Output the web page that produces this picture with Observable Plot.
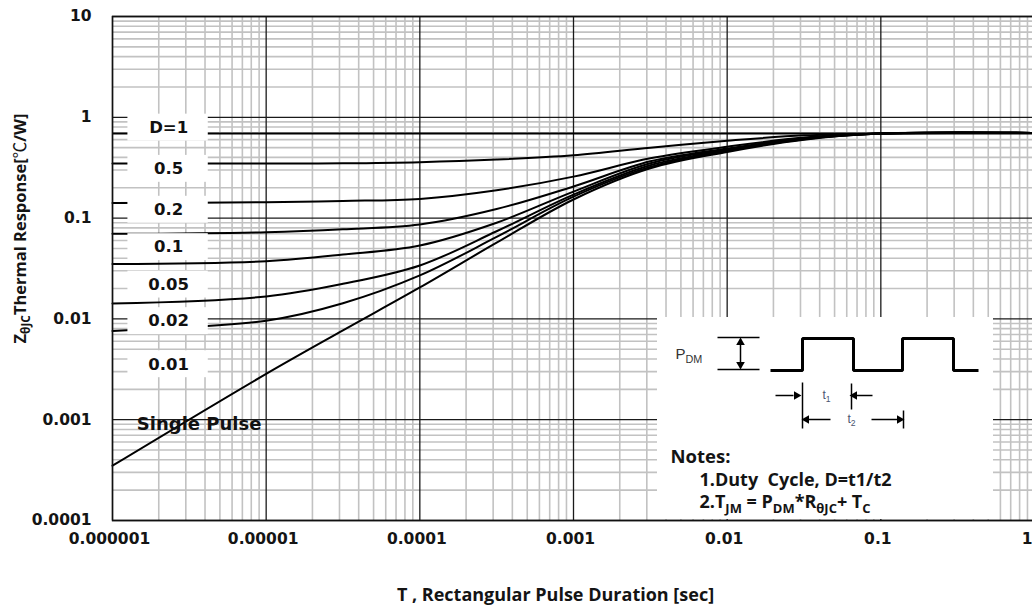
<!DOCTYPE html>
<html>
<head>
<meta charset="utf-8">
<script src="https://cdn.jsdelivr.net/npm/d3@7"></script>
<script src="https://cdn.jsdelivr.net/npm/@observablehq/plot@0.6"></script>
<style>
  html, body { margin: 0; padding: 0; background: #fff; overflow: hidden; }
  #wrap { position: relative; width: 1034px; height: 607px; }
  #inset { position: absolute; left: 657px; top: 317px; }
  svg text { white-space: pre; }
</style>
</head>
<body>
<div id="wrap"></div>
<script>
// ---------------- data ----------------
const times = [1e-6, 1e-5, 3.16e-5, 1e-4, 3.16e-4, 1e-3, 3.16e-3, 1e-2, 3.16e-2, 1e-1, 1];
const seriesNames = ["0.5", "0.2", "0.1", "0.05", "0.02", "0.01", "Single Pulse"];
const zD05   = [0.348, 0.348, 0.350, 0.359, 0.381, 0.420, 0.500, 0.585, 0.662, 0.690, 0.700];
const zD02   = [0.141, 0.144, 0.148, 0.155, 0.189, 0.258, 0.392, 0.510, 0.630, 0.690, 0.700];
const zD01   = [0.0698, 0.0725, 0.0775, 0.0864, 0.123, 0.206, 0.366, 0.490, 0.620, 0.690, 0.700];
const zD005  = [0.0350, 0.0374, 0.0435, 0.0535, 0.090, 0.183, 0.350, 0.480, 0.615, 0.690, 0.700];
const zD002  = [0.0142, 0.0167, 0.0223, 0.0339, 0.074, 0.171, 0.334, 0.469, 0.610, 0.690, 0.700];
const zD001  = [0.0076, 0.0096, 0.0143, 0.0270, 0.065, 0.163, 0.322, 0.463, 0.605, 0.690, 0.700];
const zSingle= [0.00035, 0.00285, 0.0077, 0.0205, 0.057, 0.153, 0.312, 0.453, 0.600, 0.690, 0.700];
const seriesValues = [zD05, zD02, zD01, zD005, zD002, zD001, zSingle];
const dutyOne = 0.69;

const curveLabels = ["D=1", "0.5", "0.2", "0.1", "0.05", "0.02", "0.01"];
const curveLabelZ = [0.79, 0.308, 0.121, 0.0515, 0.0219, 0.0095, 0.00355];
const curveLabelT = 2.32e-6;
const singleLabel = "Single Pulse";
const singleLabelT = 1.44e-6;
const singleLabelZ = 0.0009;

const xTicks = [1e-6, 1e-5, 1e-4, 1e-3, 1e-2, 1e-1, 1];
const xTickLabels = ["0.000001", "0.00001", "0.0001", "0.001", "0.01", "0.1", "1"];
const yTicks = [10, 1, 0.1, 0.01, 0.001, 0.0001];
const yTickLabels = ["10", "1", "0.1", "0.01", "0.001", "0.0001"];
const xTitle = "T , Rectangular Pulse Duration [sec]";
const yTitle = "Z_{θJC}Thermal Response[℃/W]";

// inset schematic (local units)
const pulseX = [113, 145, 145, 196, 196, 245, 245, 296, 296, 321];
const pulseY = [53, 53, 21, 21, 53, 53, 21, 21, 53, 53];
const notes = ["Notes:", "1.Duty  Cycle, D=t1/t2", "2.T_{JM} = P_{DM}*R_{θJC}+ T_{C}"];

// ---------------- build ----------------
const rows = seriesNames.flatMap((name, i) => times.map((t, j) => ({series: name, t, z: seriesValues[i][j]})));
const labelRows = curveLabels.map((text, i) => ({text, t: curveLabelT, z: curveLabelZ[i]}));
const minorX = d3.range(-6, 0).flatMap(e => d3.range(2, 10).map(k => k * Math.pow(10, e)));
const minorY = d3.range(-4, 1).flatMap(e => d3.range(2, 10).map(k => k * Math.pow(10, e)));

const boldTick = {fontFamily: "DejaVu Sans", fontWeight: "bold", fontSize: 15.5, fill: "#141414"};
const lastTick = xTicks.length - 1;

const chart = Plot.plot({
  width: 1034, height: 607,
  marginTop: 16, marginBottom: 87, marginLeft: 112, marginRight: 0,
  x: {type: "log", domain: [1e-6, 1]},
  y: {type: "log", domain: [1e-4, 10]},
  style: {background: "white", overflow: "visible"},
  marks: [
    Plot.ruleX(minorX, {stroke: "#c2c2c2", strokeWidth: 1.6}),
    Plot.ruleY(minorY, {stroke: "#c2c2c2", strokeWidth: 1.6}),
    Plot.ruleX(xTicks, {stroke: "#1a1a1a", strokeWidth: 1.3}),
    Plot.ruleY(yTicks, {stroke: "#1a1a1a", strokeWidth: 1.3}),
    Plot.ruleY([dutyOne], {stroke: "#000", strokeWidth: 2}),
    Plot.line(rows, {x: "t", y: "z", z: "series", stroke: "#000", strokeWidth: 2, curve: "catmull-rom"}),
    Plot.rect(labelRows, {x1: () => 1.26e-6, x2: () => 4.2e-6, y1: d => d.z / 1.36, y2: d => d.z * 1.36, fill: "white"}),
    Plot.text(labelRows, {x: "t", y: "z", text: "text", fontFamily: "DejaVu Sans", fontWeight: "bold", fontSize: 16.5, fill: "#111"}),
    Plot.text([singleLabel], {x: () => singleLabelT, y: () => singleLabelZ, textAnchor: "start", fontFamily: "DejaVu Sans", fontWeight: "bold", fontSize: 18, fill: "#111"}),
    Plot.frame({stroke: "#111", strokeWidth: 1.5}),
    Plot.axisX({ticks: xTicks.slice(0, lastTick), tickFormat: d => xTickLabels[xTicks.indexOf(d)], tickSize: 0, tickPadding: 12, dx: -3, label: null, ...boldTick}),
    Plot.text([xTickLabels[lastTick]], {x: () => xTicks[lastTick], frameAnchor: "bottom", textAnchor: "end", lineAnchor: "top", dx: -2, dy: 12, ...boldTick}),
    Plot.axisY({ticks: yTicks, tickFormat: d => yTickLabels[yTicks.indexOf(d)], tickSize: 0, tickPadding: 21, label: null, ...boldTick}),
    Plot.text([xTitle], {frameAnchor: "bottom", textAnchor: "middle", lineAnchor: "middle", dx: -18, dy: 75, fontFamily: "Open Sans", fontWeight: "bold", fontSize: 18, fill: "#141414"}),
    Plot.text([yTitle], {frameAnchor: "left", textAnchor: "middle", lineAnchor: "middle", rotate: -90, dx: -92, dy: -40, fontFamily: "Open Sans", fontWeight: "bold", fontSize: 16.5, fill: "#141414"})
  ]
});

const pulse = pulseX.map((x, i) => ({x, y: pulseY[i]}));
const vLines = [
  {x1: 83, y1: 22, x2: 83, y2: 50},
  {x1: 145, y1: 65, x2: 145, y2: 111},
  {x1: 194, y1: 66, x2: 194, y2: 92},
  {x1: 246, y1: 93, x2: 246, y2: 111}
];
const hLines = [
  {x1: 60, y1: 20, x2: 102, y2: 20},
  {x1: 60, y1: 52, x2: 102, y2: 52},
  {x1: 118, y1: 78, x2: 136, y2: 78},
  {x1: 215, y1: 78, x2: 198, y2: 78},
  {x1: 173, y1: 102, x2: 150, y2: 102},
  {x1: 214, y1: 102, x2: 240, y2: 102}
];
const heads = [
  {x: 83, y: 25, r: 0}, {x: 83, y: 47, r: 180},
  {x: 139, y: 78, r: 90}, {x: 197, y: 78, r: -90},
  {x: 149, y: 102, r: -90}, {x: 242, y: 102, r: 90}
];

const inset = Plot.plot({
  width: 336, height: 202, margin: 0,
  x: {domain: [0, 336], axis: null},
  y: {domain: [0, 202], reverse: true, axis: null},
  style: {background: "white"},
  marks: [
    Plot.line(pulse, {x: "x", y: "y", stroke: "#000", strokeWidth: 3, strokeLinejoin: "miter", strokeLinecap: "butt"}),
    Plot.link(vLines, {x1: "x1", y1: "y1", x2: "x2", y2: "y2", stroke: "#000", strokeWidth: 1.5}),
    Plot.link(hLines, {x1: "x1", y1: "y1", x2: "x2", y2: "y2", stroke: "#000", strokeWidth: 1.5}),
    Plot.dot(heads, {x: "x", y: "y", rotate: "r", symbol: "triangle", r: 3.2, fill: "#000", stroke: null}),
    Plot.text(["P_{DM}"], {x: () => 18, y: () => 37, textAnchor: "start", fontFamily: "Liberation Sans", fontSize: 15, fill: "#333"}),
    Plot.text(["t_{1}"], {x: () => 165, y: () => 78, textAnchor: "start", fontFamily: "Liberation Sans", fontSize: 12, fill: "#4a5570"}),
    Plot.text(["t_{2}"], {x: () => 190, y: () => 102, textAnchor: "start", fontFamily: "Liberation Sans", fontSize: 12, fill: "#4a5570"}),
    Plot.text([notes[0]], {x: () => 13, y: () => 140, textAnchor: "start", fontFamily: "Open Sans", fontWeight: "bold", fontSize: 18.5, fill: "#141414"}),
    Plot.text([notes[1]], {x: () => 42, y: () => 163, textAnchor: "start", fontFamily: "Open Sans", fontWeight: "bold", fontSize: 18, fill: "#141414"}),
    Plot.text([notes[2]], {x: () => 42, y: () => 185, textAnchor: "start", fontFamily: "Open Sans", fontWeight: "bold", fontSize: 18, fill: "#141414"})
  ]
});
inset.id = "inset";

const wrap = document.getElementById("wrap");
wrap.appendChild(chart);
wrap.appendChild(inset);

// turn _{...} into subscripts and give ℃ a font that has the glyph
function richText(svg) {
  d3.select(svg).selectAll("text").each(function () {
    const s = this.textContent;
    if (!s.includes("_{") && !s.includes("℃")) return;
    const fs = parseFloat(getComputedStyle(this).fontSize) || 12;
    const parts = s.split(/(_\{[^}]*\}|℃)/).filter(p => p.length);
    const el = d3.select(this);
    el.text(null);
    let shifted = false;
    for (const p of parts) {
      const sub = p.startsWith("_{");
      const t = el.append("tspan").text(sub ? p.slice(2, -1) : p);
      if (p === "℃") t.attr("font-family", "Noto Sans CJK SC").attr("font-weight", "normal");
      if (sub) { t.attr("font-size", fs * 0.72).attr("dy", fs * 0.26); shifted = true; }
      else if (shifted) { t.attr("dy", -fs * 0.26); shifted = false; }
    }
  });
}
richText(chart);
richText(inset);
</script>
</body>
</html>
